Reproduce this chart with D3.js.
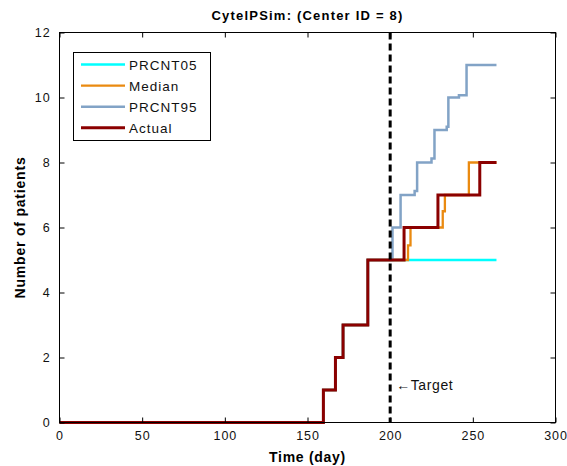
<!DOCTYPE html>
<html><head><meta charset="utf-8">
<script src="https://cdn.jsdelivr.net/npm/d3@7"></script>
<style>body{margin:0;background:#fff}text{font-family:"Liberation Sans",Arial,sans-serif}</style>
</head><body><svg id="c" width="567" height="466"></svg>
<script>
const xTicks = [0, 50, 100, 150, 200, 250, 300];
const yTicks = [0, 2, 4, 6, 8, 10, 12];
const seriesNames = ["PRCNT05", "Median", "PRCNT95", "Actual"];
const p05T = [0, 159.6, 166.9, 171.5, 186.5, 264.3];
const p05V = [0, 1, 2, 3, 5, 5];
const medianT = [0, 159.6, 166.9, 171.5, 186.5, 210.8, 212.3, 231.8, 233.1, 247.6, 264.3];
const medianV = [0, 1, 2, 3, 5, 5.45, 6, 6.5, 7, 8, 8];
const p95T = [0, 159.6, 166.9, 171.5, 186.5, 201.4, 206.3, 214.8, 216.3, 225.0, 226.8, 234.2, 235.2, 241.6, 246.2, 264.3];
const p95V = [0, 1, 2, 3, 5, 6, 7, 7.12, 8, 8.12, 9, 9.1, 10, 10.07, 11, 11];
const actualT = [0, 159.6, 166.9, 171.5, 186.5, 208.4, 228.9, 254.2, 264.3];
const actualV = [0, 1, 2, 3, 5, 6, 7, 8, 8];
const targetDay = 200;

const colors = ["#00FFFF", "#EA8A10", "#82A3C6", "#8B0000"];
const widths = [2.5, 2.3, 2.5, 3];

const svg = d3.select("#c");
const L = 59.5, R = 555.5, T = 32.5, B = 422.5;
const x = d3.scaleLinear().domain([0, 300]).range([L, R]);
const y = d3.scaleLinear().domain([0, 12]).range([B, T]);

const series = [[p05T, p05V], [medianT, medianV], [p95T, p95V], [actualT, actualV]];
const line = d3.line().x(d => x(d[0])).y(d => y(d[1])).curve(d3.curveStepAfter);
series.forEach((s, i) => {
  const pts = s[0].map((t, j) => [t, s[1][j]]);
  svg.append("path").attr("d", line(pts)).attr("fill", "none")
    .attr("stroke", colors[i]).attr("stroke-width", widths[i]).attr("stroke-linejoin", "miter");
});

// target line
svg.append("line").attr("x1", x(targetDay)).attr("x2", x(targetDay)).attr("y1", T).attr("y2", B)
  .attr("stroke", "#000").attr("stroke-width", 3).attr("stroke-dasharray", "7,4");
svg.append("text").attr("x", x(targetDay) + 6).attr("y", 390).attr("font-size", 14)
  .attr("letter-spacing", 0.6).attr("fill", "#111").text("\u2190Target");

// axes (MATLAB style, inward ticks on all sides)
const axB = d3.axisBottom(x).tickValues(xTicks).tickSizeInner(-5).tickSizeOuter(0).tickPadding(9);
const axT = d3.axisTop(x).tickValues(xTicks).tickSizeInner(-5).tickSizeOuter(0).tickFormat("");
const axL = d3.axisLeft(y).tickValues(yTicks).tickSizeInner(-5).tickSizeOuter(0).tickPadding(9);
const axR = d3.axisRight(y).tickValues(yTicks).tickSizeInner(-5).tickSizeOuter(0).tickFormat("");
function style(g) {
  g.select(".domain").remove();
  g.selectAll("line").attr("stroke", "#000");
  g.selectAll("text").attr("font-size", 12.5).attr("letter-spacing", 0.9).attr("fill", "#111")
    .attr("font-family", "Liberation Sans, Arial, sans-serif");
}
svg.append("g").attr("transform", `translate(0,${B})`).call(axB).call(style);
svg.append("g").attr("transform", `translate(0,${T})`).call(axT).call(style);
svg.append("g").attr("transform", `translate(${L},0)`).call(axL).call(style);
svg.append("g").attr("transform", `translate(${R},0)`).call(axR).call(style);
svg.append("rect").attr("x", L).attr("y", T).attr("width", R - L).attr("height", B - T)
  .attr("fill", "none").attr("stroke", "#000").attr("stroke-width", 1);

// titles
svg.append("text").attr("x", (L + R) / 2).attr("y", 20).attr("text-anchor", "middle")
  .attr("font-size", 13).attr("letter-spacing", 1.2).attr("font-weight", "bold").text("CytelPSim: (Center ID = 8)");
svg.append("text").attr("x", (L + R) / 2).attr("y", 462).attr("text-anchor", "middle")
  .attr("font-size", 14).attr("letter-spacing", 0.7).attr("font-weight", "bold").text("Time (day)");
svg.append("text").attr("transform", `translate(25,${(T + B) / 2}) rotate(-90)`).attr("text-anchor", "middle")
  .attr("font-size", 14).attr("letter-spacing", 0.8).attr("font-weight", "bold").text("Number of patients");

// legend
const lg = svg.append("g");
lg.append("rect").attr("x", 73.5).attr("y", 52.5).attr("width", 137).attr("height", 88)
  .attr("fill", "#fff").attr("stroke", "#000").attr("stroke-width", 1);
seriesNames.forEach((n, i) => {
  const yy = 64.5 + i * 21.1;
  lg.append("line").attr("x1", 81).attr("x2", 125).attr("y1", yy).attr("y2", yy)
    .attr("stroke", colors[i]).attr("stroke-width", widths[i]);
  lg.append("text").attr("x", 129).attr("y", yy + 5).attr("font-size", 13.5).attr("letter-spacing", 1)
    .attr("fill", "#111").text(n);
});
</script></body></html>
